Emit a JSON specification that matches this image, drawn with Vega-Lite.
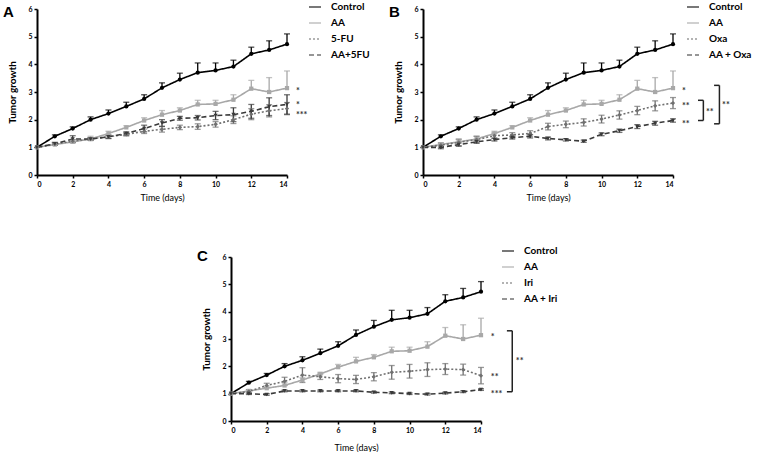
{
"$schema":"https://vega.github.io/schema/vega-lite/v6.json",
"background":"white",
"padding":{"left":3,"top":0,"right":0,"bottom":0},
"datasets":{
"series":[
{"p":"all","g":"Control","d":0,"y":1,"lo":1,"hi":1},
{"p":"all","g":"Control","d":1,"y":1.4,"lo":1.4,"hi":1.45},
{"p":"all","g":"Control","d":2,"y":1.68,"lo":1.68,"hi":1.74},
{"p":"all","g":"Control","d":3,"y":2.0,"lo":2.0,"hi":2.1},
{"p":"all","g":"Control","d":4,"y":2.22,"lo":2.22,"hi":2.35},
{"p":"all","g":"Control","d":5,"y":2.48,"lo":2.48,"hi":2.63},
{"p":"all","g":"Control","d":6,"y":2.75,"lo":2.75,"hi":2.9},
{"p":"all","g":"Control","d":7,"y":3.15,"lo":3.15,"hi":3.33},
{"p":"all","g":"Control","d":8,"y":3.45,"lo":3.45,"hi":3.68},
{"p":"all","g":"Control","d":9,"y":3.7,"lo":3.7,"hi":4.05},
{"p":"all","g":"Control","d":10,"y":3.78,"lo":3.78,"hi":4.05},
{"p":"all","g":"Control","d":11,"y":3.92,"lo":3.92,"hi":4.15},
{"p":"all","g":"Control","d":12,"y":4.38,"lo":4.38,"hi":4.62},
{"p":"all","g":"Control","d":13,"y":4.52,"lo":4.52,"hi":4.85},
{"p":"all","g":"Control","d":14,"y":4.73,"lo":4.73,"hi":5.1},
{"p":"all","g":"AA","d":0,"y":1,"lo":1,"hi":1},
{"p":"all","g":"AA","d":1,"y":1.1,"lo":1.1,"hi":1.15},
{"p":"all","g":"AA","d":2,"y":1.2,"lo":1.2,"hi":1.28},
{"p":"all","g":"AA","d":3,"y":1.3,"lo":1.3,"hi":1.4},
{"p":"all","g":"AA","d":4,"y":1.5,"lo":1.5,"hi":1.58},
{"p":"all","g":"AA","d":5,"y":1.72,"lo":1.72,"hi":1.78},
{"p":"all","g":"AA","d":6,"y":1.97,"lo":1.97,"hi":2.07},
{"p":"all","g":"AA","d":7,"y":2.18,"lo":2.18,"hi":2.33},
{"p":"all","g":"AA","d":8,"y":2.33,"lo":2.33,"hi":2.43},
{"p":"all","g":"AA","d":9,"y":2.55,"lo":2.55,"hi":2.7},
{"p":"all","g":"AA","d":10,"y":2.57,"lo":2.57,"hi":2.7},
{"p":"all","g":"AA","d":11,"y":2.72,"lo":2.72,"hi":2.9},
{"p":"all","g":"AA","d":12,"y":3.12,"lo":3.12,"hi":3.42},
{"p":"all","g":"AA","d":13,"y":3.0,"lo":3.0,"hi":3.52},
{"p":"all","g":"AA","d":14,"y":3.14,"lo":3.14,"hi":3.76},
{"p":"A","g":"5-FU","d":0,"y":1,"lo":1,"hi":1},
{"p":"A","g":"5-FU","d":1,"y":1.12,"lo":1.08,"hi":1.16},
{"p":"A","g":"5-FU","d":2,"y":1.22,"lo":1.16,"hi":1.28},
{"p":"A","g":"5-FU","d":3,"y":1.3,"lo":1.25,"hi":1.35},
{"p":"A","g":"5-FU","d":4,"y":1.38,"lo":1.32,"hi":1.44},
{"p":"A","g":"5-FU","d":5,"y":1.47,"lo":1.41,"hi":1.53},
{"p":"A","g":"5-FU","d":6,"y":1.58,"lo":1.5,"hi":1.66},
{"p":"A","g":"5-FU","d":7,"y":1.65,"lo":1.55,"hi":1.75},
{"p":"A","g":"5-FU","d":8,"y":1.72,"lo":1.64,"hi":1.8},
{"p":"A","g":"5-FU","d":9,"y":1.75,"lo":1.65,"hi":1.85},
{"p":"A","g":"5-FU","d":10,"y":1.83,"lo":1.73,"hi":1.93},
{"p":"A","g":"5-FU","d":11,"y":2.0,"lo":1.86,"hi":2.14},
{"p":"A","g":"5-FU","d":12,"y":2.2,"lo":2.0,"hi":2.4},
{"p":"A","g":"5-FU","d":13,"y":2.32,"lo":2.1,"hi":2.54},
{"p":"A","g":"5-FU","d":14,"y":2.4,"lo":2.18,"hi":2.62},
{"p":"A","g":"AA+5FU","d":0,"y":1,"lo":1,"hi":1},
{"p":"A","g":"AA+5FU","d":1,"y":1.13,"lo":1.08,"hi":1.18},
{"p":"A","g":"AA+5FU","d":2,"y":1.3,"lo":1.18,"hi":1.42},
{"p":"A","g":"AA+5FU","d":3,"y":1.3,"lo":1.25,"hi":1.35},
{"p":"A","g":"AA+5FU","d":4,"y":1.38,"lo":1.32,"hi":1.44},
{"p":"A","g":"AA+5FU","d":5,"y":1.5,"lo":1.44,"hi":1.56},
{"p":"A","g":"AA+5FU","d":6,"y":1.68,"lo":1.56,"hi":1.8},
{"p":"A","g":"AA+5FU","d":7,"y":1.88,"lo":1.76,"hi":2.0},
{"p":"A","g":"AA+5FU","d":8,"y":2.05,"lo":1.98,"hi":2.12},
{"p":"A","g":"AA+5FU","d":9,"y":2.07,"lo":1.99,"hi":2.15},
{"p":"A","g":"AA+5FU","d":10,"y":2.15,"lo":2.0,"hi":2.3},
{"p":"A","g":"AA+5FU","d":11,"y":2.18,"lo":1.93,"hi":2.43},
{"p":"A","g":"AA+5FU","d":12,"y":2.3,"lo":2.05,"hi":2.55},
{"p":"A","g":"AA+5FU","d":13,"y":2.47,"lo":2.15,"hi":2.79},
{"p":"A","g":"AA+5FU","d":14,"y":2.55,"lo":2.2,"hi":2.9},
{"p":"B","g":"Oxa","d":0,"y":1,"lo":1,"hi":1},
{"p":"B","g":"Oxa","d":1,"y":1.08,"lo":1.0,"hi":1.16},
{"p":"B","g":"Oxa","d":2,"y":1.18,"lo":1.06,"hi":1.3},
{"p":"B","g":"Oxa","d":3,"y":1.28,"lo":1.16,"hi":1.4},
{"p":"B","g":"Oxa","d":4,"y":1.42,"lo":1.32,"hi":1.52},
{"p":"B","g":"Oxa","d":5,"y":1.45,"lo":1.37,"hi":1.53},
{"p":"B","g":"Oxa","d":6,"y":1.5,"lo":1.4,"hi":1.6},
{"p":"B","g":"Oxa","d":7,"y":1.75,"lo":1.63,"hi":1.87},
{"p":"B","g":"Oxa","d":8,"y":1.83,"lo":1.71,"hi":1.95},
{"p":"B","g":"Oxa","d":9,"y":1.9,"lo":1.77,"hi":2.03},
{"p":"B","g":"Oxa","d":10,"y":2.02,"lo":1.88,"hi":2.16},
{"p":"B","g":"Oxa","d":11,"y":2.17,"lo":2.02,"hi":2.32},
{"p":"B","g":"Oxa","d":12,"y":2.33,"lo":2.18,"hi":2.48},
{"p":"B","g":"Oxa","d":13,"y":2.5,"lo":2.32,"hi":2.68},
{"p":"B","g":"Oxa","d":14,"y":2.6,"lo":2.4,"hi":2.8},
{"p":"B","g":"AA + Oxa","d":0,"y":1,"lo":1,"hi":1},
{"p":"B","g":"AA + Oxa","d":1,"y":1.0,"lo":0.95,"hi":1.05},
{"p":"B","g":"AA + Oxa","d":2,"y":1.1,"lo":1.04,"hi":1.16},
{"p":"B","g":"AA + Oxa","d":3,"y":1.2,"lo":1.15,"hi":1.25},
{"p":"B","g":"AA + Oxa","d":4,"y":1.28,"lo":1.23,"hi":1.33},
{"p":"B","g":"AA + Oxa","d":5,"y":1.35,"lo":1.3,"hi":1.4},
{"p":"B","g":"AA + Oxa","d":6,"y":1.4,"lo":1.34,"hi":1.46},
{"p":"B","g":"AA + Oxa","d":7,"y":1.32,"lo":1.27,"hi":1.37},
{"p":"B","g":"AA + Oxa","d":8,"y":1.27,"lo":1.23,"hi":1.31},
{"p":"B","g":"AA + Oxa","d":9,"y":1.22,"lo":1.18,"hi":1.26},
{"p":"B","g":"AA + Oxa","d":10,"y":1.47,"lo":1.42,"hi":1.52},
{"p":"B","g":"AA + Oxa","d":11,"y":1.6,"lo":1.54,"hi":1.66},
{"p":"B","g":"AA + Oxa","d":12,"y":1.75,"lo":1.68,"hi":1.82},
{"p":"B","g":"AA + Oxa","d":13,"y":1.87,"lo":1.8,"hi":1.94},
{"p":"B","g":"AA + Oxa","d":14,"y":1.97,"lo":1.91,"hi":2.03},
{"p":"C","g":"Iri","d":0,"y":1,"lo":1,"hi":1},
{"p":"C","g":"Iri","d":1,"y":1.08,"lo":1.02,"hi":1.14},
{"p":"C","g":"Iri","d":2,"y":1.3,"lo":1.22,"hi":1.38},
{"p":"C","g":"Iri","d":3,"y":1.45,"lo":1.3,"hi":1.6},
{"p":"C","g":"Iri","d":4,"y":1.68,"lo":1.41,"hi":1.95},
{"p":"C","g":"Iri","d":5,"y":1.62,"lo":1.52,"hi":1.72},
{"p":"C","g":"Iri","d":6,"y":1.55,"lo":1.4,"hi":1.7},
{"p":"C","g":"Iri","d":7,"y":1.52,"lo":1.37,"hi":1.67},
{"p":"C","g":"Iri","d":8,"y":1.62,"lo":1.47,"hi":1.77},
{"p":"C","g":"Iri","d":9,"y":1.78,"lo":1.53,"hi":2.03},
{"p":"C","g":"Iri","d":10,"y":1.82,"lo":1.57,"hi":2.07},
{"p":"C","g":"Iri","d":11,"y":1.88,"lo":1.63,"hi":2.13},
{"p":"C","g":"Iri","d":12,"y":1.9,"lo":1.7,"hi":2.1},
{"p":"C","g":"Iri","d":13,"y":1.88,"lo":1.68,"hi":2.08},
{"p":"C","g":"Iri","d":14,"y":1.66,"lo":1.36,"hi":1.96},
{"p":"C","g":"AA + Iri","d":0,"y":1,"lo":1,"hi":1},
{"p":"C","g":"AA + Iri","d":1,"y":1.0,"lo":0.97,"hi":1.03},
{"p":"C","g":"AA + Iri","d":2,"y":0.97,"lo":0.94,"hi":1.0},
{"p":"C","g":"AA + Iri","d":3,"y":1.1,"lo":1.07,"hi":1.13},
{"p":"C","g":"AA + Iri","d":4,"y":1.1,"lo":1.07,"hi":1.13},
{"p":"C","g":"AA + Iri","d":5,"y":1.1,"lo":1.07,"hi":1.13},
{"p":"C","g":"AA + Iri","d":6,"y":1.1,"lo":1.07,"hi":1.13},
{"p":"C","g":"AA + Iri","d":7,"y":1.1,"lo":1.07,"hi":1.13},
{"p":"C","g":"AA + Iri","d":8,"y":1.05,"lo":1.02,"hi":1.08},
{"p":"C","g":"AA + Iri","d":9,"y":1.03,"lo":1.0,"hi":1.06},
{"p":"C","g":"AA + Iri","d":10,"y":1.0,"lo":0.97,"hi":1.03},
{"p":"C","g":"AA + Iri","d":11,"y":0.98,"lo":0.95,"hi":1.01},
{"p":"C","g":"AA + Iri","d":12,"y":1.02,"lo":0.99,"hi":1.05},
{"p":"C","g":"AA + Iri","d":13,"y":1.07,"lo":1.04,"hi":1.1},
{"p":"C","g":"AA + Iri","d":14,"y":1.15,"lo":1.12,"hi":1.18}
],
"ann":[
{"p":"A","x":14.5,"y":3.12,"t":"*"},
{"p":"A","x":14.5,"y":2.62,"t":"*"},
{"p":"A","x":14.5,"y":2.24,"t":"***"},
{"p":"B","x":14.5,"y":3.1,"t":"*"},
{"p":"B","x":14.5,"y":2.55,"t":"**"},
{"p":"B","x":14.5,"y":1.9,"t":"**"},
{"p":"B","x":15.85,"y":2.36,"t":"**"},
{"p":"B","x":16.75,"y":2.62,"t":"**"},
{"p":"C","x":14.55,"y":3.15,"t":"*"},
{"p":"C","x":14.55,"y":1.68,"t":"**"},
{"p":"C","x":14.55,"y":1.07,"t":"***"},
{"p":"C","x":15.95,"y":2.27,"t":"**"}
],
"br":[
{"p":"B","x":15.7,"x2":15.7,"y":2.7,"y2":1.97},
{"p":"B","x":15.4,"x2":15.7,"y":2.7,"y2":2.7},
{"p":"B","x":15.4,"x2":15.7,"y":1.97,"y2":1.97},
{"p":"B","x":16.6,"x2":16.6,"y":3.24,"y2":1.85},
{"p":"B","x":16.3,"x2":16.6,"y":3.24,"y2":3.24},
{"p":"B","x":16.3,"x2":16.6,"y":1.85,"y2":1.85},
{"p":"C","x":15.75,"x2":15.75,"y":3.3,"y2":1.07},
{"p":"C","x":15.45,"x2":15.75,"y":3.3,"y2":3.3},
{"p":"C","x":15.45,"x2":15.75,"y":1.07,"y2":1.07}
]
},
"vconcat":[
{"hconcat":[
{
"width":250,"height":166,
"title":{"text":"A"},
"layer":[
{"data":{"name":"series"},"transform":[{"filter":"(datum.p=='all'||datum.p=='A')"}],
 "mark":{"type":"rule","strokeWidth":1.3},
 "encoding":{"x":{"field":"d","type":"quantitative","scale":{"domain":[0,14],"nice":false},"title":"Time (days)"},
 "y":{"field":"lo","type":"quantitative","scale":{"domain":[0,6],"nice":false},"title":"Tumor growth"},"y2":{"field":"hi"},
 "color":{"field":"g","type":"nominal","scale":{"domain":["Control","AA","5-FU","AA+5FU"],"range":["#000000","#a8a8a8","#707070","#3a3a3a"]}}}},
{"data":{"name":"series"},"transform":[{"filter":"(datum.p=='all'||datum.p=='A') && datum.hi>datum.y"}],
 "mark":{"type":"tick","orient":"horizontal","size":6,"thickness":1.3},
 "encoding":{"x":{"field":"d","type":"quantitative","scale":{"domain":[0,14],"nice":false},"title":"Time (days)"},
 "y":{"field":"hi","type":"quantitative","scale":{"domain":[0,6],"nice":false},"title":"Tumor growth"},
 "color":{"field":"g","type":"nominal","scale":{"domain":["Control","AA","5-FU","AA+5FU"],"range":["#000000","#a8a8a8","#707070","#3a3a3a"]}}}},
{"data":{"name":"series"},"transform":[{"filter":"(datum.p=='all'||datum.p=='A') && datum.lo<datum.y"}],
 "mark":{"type":"tick","orient":"horizontal","size":6,"thickness":1.3},
 "encoding":{"x":{"field":"d","type":"quantitative","scale":{"domain":[0,14],"nice":false},"title":"Time (days)"},
 "y":{"field":"lo","type":"quantitative","scale":{"domain":[0,6],"nice":false},"title":"Tumor growth"},
 "color":{"field":"g","type":"nominal","scale":{"domain":["Control","AA","5-FU","AA+5FU"],"range":["#000000","#a8a8a8","#707070","#3a3a3a"]}}}},
{"data":{"name":"series"},"transform":[{"filter":"(datum.p=='all'||datum.p=='A')"}],
 "mark":{"type":"line","strokeWidth":1.6},
 "encoding":{"x":{"field":"d","type":"quantitative","scale":{"domain":[0,14],"nice":false},"title":"Time (days)"},
 "y":{"field":"y","type":"quantitative","scale":{"domain":[0,6],"nice":false},"title":"Tumor growth"},
 "color":{"field":"g","type":"nominal","scale":{"domain":["Control","AA","5-FU","AA+5FU"],"range":["#000000","#a8a8a8","#707070","#3a3a3a"]},"legend":{"title":null,"orient":"none","legendX":271,"legendY":-9,"symbolType":"stroke"}},
 "strokeDash":{"field":"g","type":"nominal","scale":{"domain":["Control","AA","5-FU","AA+5FU"],"range":[[1,0],[1,0],[2,2],[5,3]]},"legend":{"title":null,"orient":"none","legendX":271,"legendY":-9,"symbolType":"stroke"}}}},
{"data":{"name":"series"},"transform":[{"filter":"(datum.p=='all'||datum.p=='A') && datum.g=='Control'"}],
 "mark":{"type":"point","filled":true,"size":18,"opacity":1,"shape":"circle","color":"#000000"},
 "encoding":{"x":{"field":"d","type":"quantitative","scale":{"domain":[0,14],"nice":false},"title":"Time (days)"},
 "y":{"field":"y","type":"quantitative","scale":{"domain":[0,6],"nice":false},"title":"Tumor growth"}}},
{"data":{"name":"series"},"transform":[{"filter":"(datum.p=='all'||datum.p=='A') && datum.g=='AA'"}],
 "mark":{"type":"point","filled":true,"size":18,"opacity":1,"shape":"square","color":"#a8a8a8"},
 "encoding":{"x":{"field":"d","type":"quantitative","scale":{"domain":[0,14],"nice":false},"title":"Time (days)"},
 "y":{"field":"y","type":"quantitative","scale":{"domain":[0,6],"nice":false},"title":"Tumor growth"}}},
{"data":{"name":"series"},"transform":[{"filter":"datum.p=='A' && datum.g=='5-FU'"}],
 "mark":{"type":"point","filled":true,"size":18,"opacity":1,"shape":"diamond","color":"#707070"},
 "encoding":{"x":{"field":"d","type":"quantitative","scale":{"domain":[0,14],"nice":false},"title":"Time (days)"},
 "y":{"field":"y","type":"quantitative","scale":{"domain":[0,6],"nice":false},"title":"Tumor growth"}}},
{"data":{"name":"series"},"transform":[{"filter":"datum.p=='A' && datum.g=='AA+5FU'"}],
 "mark":{"type":"point","filled":true,"size":18,"opacity":1,"shape":"triangle-down","color":"#3a3a3a"},
 "encoding":{"x":{"field":"d","type":"quantitative","scale":{"domain":[0,14],"nice":false},"title":"Time (days)"},
 "y":{"field":"y","type":"quantitative","scale":{"domain":[0,6],"nice":false},"title":"Tumor growth"}}},
{"data":{"name":"ann"},"transform":[{"filter":"datum.p=='A'"}],
 "mark":{"type":"text","align":"left","baseline":"middle","fontWeight":"bold","fontSize":9,"dy":2,"color":"#333333"},
 "encoding":{"x":{"field":"x","type":"quantitative","scale":{"domain":[0,14],"nice":false},"title":"Time (days)"},
 "y":{"field":"y","type":"quantitative","scale":{"domain":[0,6],"nice":false},"title":"Tumor growth"},
 "text":{"field":"t"}}}
]
},
{
"width":250,"height":166,
"title":{"text":"B"},
"layer":[
{"data":{"name":"series"},"transform":[{"filter":"(datum.p=='all'||datum.p=='B')"}],
 "mark":{"type":"rule","strokeWidth":1.3},
 "encoding":{"x":{"field":"d","type":"quantitative","scale":{"domain":[0,14],"nice":false},"title":"Time (days)"},
 "y":{"field":"lo","type":"quantitative","scale":{"domain":[0,6],"nice":false},"title":"Tumor growth"},"y2":{"field":"hi"},
 "color":{"field":"g","type":"nominal","scale":{"domain":["Control","AA","Oxa","AA + Oxa"],"range":["#000000","#a8a8a8","#707070","#3a3a3a"]}}}},
{"data":{"name":"series"},"transform":[{"filter":"(datum.p=='all'||datum.p=='B') && datum.hi>datum.y"}],
 "mark":{"type":"tick","orient":"horizontal","size":6,"thickness":1.3},
 "encoding":{"x":{"field":"d","type":"quantitative","scale":{"domain":[0,14],"nice":false},"title":"Time (days)"},
 "y":{"field":"hi","type":"quantitative","scale":{"domain":[0,6],"nice":false},"title":"Tumor growth"},
 "color":{"field":"g","type":"nominal","scale":{"domain":["Control","AA","Oxa","AA + Oxa"],"range":["#000000","#a8a8a8","#707070","#3a3a3a"]}}}},
{"data":{"name":"series"},"transform":[{"filter":"(datum.p=='all'||datum.p=='B') && datum.lo<datum.y"}],
 "mark":{"type":"tick","orient":"horizontal","size":6,"thickness":1.3},
 "encoding":{"x":{"field":"d","type":"quantitative","scale":{"domain":[0,14],"nice":false},"title":"Time (days)"},
 "y":{"field":"lo","type":"quantitative","scale":{"domain":[0,6],"nice":false},"title":"Tumor growth"},
 "color":{"field":"g","type":"nominal","scale":{"domain":["Control","AA","Oxa","AA + Oxa"],"range":["#000000","#a8a8a8","#707070","#3a3a3a"]}}}},
{"data":{"name":"series"},"transform":[{"filter":"(datum.p=='all'||datum.p=='B')"}],
 "mark":{"type":"line","strokeWidth":1.6},
 "encoding":{"x":{"field":"d","type":"quantitative","scale":{"domain":[0,14],"nice":false},"title":"Time (days)"},
 "y":{"field":"y","type":"quantitative","scale":{"domain":[0,6],"nice":false},"title":"Tumor growth"},
 "color":{"field":"g","type":"nominal","scale":{"domain":["Control","AA","Oxa","AA + Oxa"],"range":["#000000","#a8a8a8","#707070","#3a3a3a"]},"legend":{"title":null,"orient":"none","legendX":263,"legendY":-9,"symbolType":"stroke","labelOffset":9}},
 "strokeDash":{"field":"g","type":"nominal","scale":{"domain":["Control","AA","Oxa","AA + Oxa"],"range":[[1,0],[1,0],[2,2],[5,3]]},"legend":{"title":null,"orient":"none","legendX":263,"legendY":-9,"symbolType":"stroke","labelOffset":9}}}},
{"data":{"name":"series"},"transform":[{"filter":"(datum.p=='all'||datum.p=='B') && datum.g=='Control'"}],
 "mark":{"type":"point","filled":true,"size":18,"opacity":1,"shape":"circle","color":"#000000"},
 "encoding":{"x":{"field":"d","type":"quantitative","scale":{"domain":[0,14],"nice":false},"title":"Time (days)"},
 "y":{"field":"y","type":"quantitative","scale":{"domain":[0,6],"nice":false},"title":"Tumor growth"}}},
{"data":{"name":"series"},"transform":[{"filter":"(datum.p=='all'||datum.p=='B') && datum.g=='AA'"}],
 "mark":{"type":"point","filled":true,"size":18,"opacity":1,"shape":"square","color":"#a8a8a8"},
 "encoding":{"x":{"field":"d","type":"quantitative","scale":{"domain":[0,14],"nice":false},"title":"Time (days)"},
 "y":{"field":"y","type":"quantitative","scale":{"domain":[0,6],"nice":false},"title":"Tumor growth"}}},
{"data":{"name":"series"},"transform":[{"filter":"datum.p=='B' && datum.g=='Oxa'"}],
 "mark":{"type":"point","filled":true,"size":18,"opacity":1,"shape":"diamond","color":"#707070"},
 "encoding":{"x":{"field":"d","type":"quantitative","scale":{"domain":[0,14],"nice":false},"title":"Time (days)"},
 "y":{"field":"y","type":"quantitative","scale":{"domain":[0,6],"nice":false},"title":"Tumor growth"}}},
{"data":{"name":"series"},"transform":[{"filter":"datum.p=='B' && datum.g=='AA + Oxa'"}],
 "mark":{"type":"point","filled":true,"size":18,"opacity":1,"shape":"triangle-down","color":"#3a3a3a"},
 "encoding":{"x":{"field":"d","type":"quantitative","scale":{"domain":[0,14],"nice":false},"title":"Time (days)"},
 "y":{"field":"y","type":"quantitative","scale":{"domain":[0,6],"nice":false},"title":"Tumor growth"}}},
{"data":{"name":"ann"},"transform":[{"filter":"datum.p=='B'"}],
 "mark":{"type":"text","align":"left","baseline":"middle","fontWeight":"bold","fontSize":9,"dy":2,"color":"#333333"},
 "encoding":{"x":{"field":"x","type":"quantitative","scale":{"domain":[0,14],"nice":false},"title":"Time (days)"},
 "y":{"field":"y","type":"quantitative","scale":{"domain":[0,6],"nice":false},"title":"Tumor growth"},
 "text":{"field":"t"}}},
{"data":{"name":"br"},"transform":[{"filter":"datum.p=='B'"}],
 "mark":{"type":"rule","strokeWidth":1.5,"color":"#222222"},
 "encoding":{"x":{"field":"x","type":"quantitative","scale":{"domain":[0,14],"nice":false},"title":"Time (days)"},"x2":{"field":"x2"},
 "y":{"field":"y","type":"quantitative","scale":{"domain":[0,6],"nice":false},"title":"Tumor growth"},"y2":{"field":"y2"}}}
]
}
],"spacing":19,"resolve":{"scale":{"color":"independent","strokeDash":"independent"},"legend":{"color":"independent","strokeDash":"independent"}}},
{
"width":250,"height":164,
"title":{"text":"C"},
"layer":[
{"data":{"name":"series"},"transform":[{"filter":"(datum.p=='all'||datum.p=='C')"}],
 "mark":{"type":"rule","strokeWidth":1.3},
 "encoding":{"x":{"field":"d","type":"quantitative","scale":{"domain":[0,14],"nice":false},"title":"Time (days)","axis":{"titlePadding":10}},
 "y":{"field":"lo","type":"quantitative","scale":{"domain":[0,6],"nice":false},"title":"Tumor growth"},"y2":{"field":"hi"},
 "color":{"field":"g","type":"nominal","scale":{"domain":["Control","AA","Iri","AA + Iri"],"range":["#000000","#a8a8a8","#707070","#3a3a3a"]}}}},
{"data":{"name":"series"},"transform":[{"filter":"(datum.p=='all'||datum.p=='C') && datum.hi>datum.y"}],
 "mark":{"type":"tick","orient":"horizontal","size":6,"thickness":1.3},
 "encoding":{"x":{"field":"d","type":"quantitative","scale":{"domain":[0,14],"nice":false},"title":"Time (days)"},
 "y":{"field":"hi","type":"quantitative","scale":{"domain":[0,6],"nice":false},"title":"Tumor growth"},
 "color":{"field":"g","type":"nominal","scale":{"domain":["Control","AA","Iri","AA + Iri"],"range":["#000000","#a8a8a8","#707070","#3a3a3a"]}}}},
{"data":{"name":"series"},"transform":[{"filter":"(datum.p=='all'||datum.p=='C') && datum.lo<datum.y"}],
 "mark":{"type":"tick","orient":"horizontal","size":6,"thickness":1.3},
 "encoding":{"x":{"field":"d","type":"quantitative","scale":{"domain":[0,14],"nice":false},"title":"Time (days)"},
 "y":{"field":"lo","type":"quantitative","scale":{"domain":[0,6],"nice":false},"title":"Tumor growth"},
 "color":{"field":"g","type":"nominal","scale":{"domain":["Control","AA","Iri","AA + Iri"],"range":["#000000","#a8a8a8","#707070","#3a3a3a"]}}}},
{"data":{"name":"series"},"transform":[{"filter":"(datum.p=='all'||datum.p=='C')"}],
 "mark":{"type":"line","strokeWidth":1.6},
 "encoding":{"x":{"field":"d","type":"quantitative","scale":{"domain":[0,14],"nice":false},"title":"Time (days)"},
 "y":{"field":"y","type":"quantitative","scale":{"domain":[0,6],"nice":false},"title":"Tumor growth"},
 "color":{"field":"g","type":"nominal","scale":{"domain":["Control","AA","Iri","AA + Iri"],"range":["#000000","#a8a8a8","#707070","#3a3a3a"]},"legend":{"title":null,"orient":"none","legendX":270,"legendY":-13,"symbolType":"stroke"}},
 "strokeDash":{"field":"g","type":"nominal","scale":{"domain":["Control","AA","Iri","AA + Iri"],"range":[[1,0],[1,0],[2,2],[5,3]]},"legend":{"title":null,"orient":"none","legendX":270,"legendY":-13,"symbolType":"stroke"}}}},
{"data":{"name":"series"},"transform":[{"filter":"(datum.p=='all'||datum.p=='C') && datum.g=='Control'"}],
 "mark":{"type":"point","filled":true,"size":18,"opacity":1,"shape":"circle","color":"#000000"},
 "encoding":{"x":{"field":"d","type":"quantitative","scale":{"domain":[0,14],"nice":false},"title":"Time (days)"},
 "y":{"field":"y","type":"quantitative","scale":{"domain":[0,6],"nice":false},"title":"Tumor growth"}}},
{"data":{"name":"series"},"transform":[{"filter":"(datum.p=='all'||datum.p=='C') && datum.g=='AA'"}],
 "mark":{"type":"point","filled":true,"size":18,"opacity":1,"shape":"square","color":"#a8a8a8"},
 "encoding":{"x":{"field":"d","type":"quantitative","scale":{"domain":[0,14],"nice":false},"title":"Time (days)"},
 "y":{"field":"y","type":"quantitative","scale":{"domain":[0,6],"nice":false},"title":"Tumor growth"}}},
{"data":{"name":"series"},"transform":[{"filter":"datum.p=='C' && datum.g=='Iri'"}],
 "mark":{"type":"point","filled":true,"size":18,"opacity":1,"shape":"diamond","color":"#707070"},
 "encoding":{"x":{"field":"d","type":"quantitative","scale":{"domain":[0,14],"nice":false},"title":"Time (days)"},
 "y":{"field":"y","type":"quantitative","scale":{"domain":[0,6],"nice":false},"title":"Tumor growth"}}},
{"data":{"name":"series"},"transform":[{"filter":"datum.p=='C' && datum.g=='AA + Iri'"}],
 "mark":{"type":"point","filled":true,"size":18,"opacity":1,"shape":"triangle-down","color":"#3a3a3a"},
 "encoding":{"x":{"field":"d","type":"quantitative","scale":{"domain":[0,14],"nice":false},"title":"Time (days)"},
 "y":{"field":"y","type":"quantitative","scale":{"domain":[0,6],"nice":false},"title":"Tumor growth"}}},
{"data":{"name":"ann"},"transform":[{"filter":"datum.p=='C'"}],
 "mark":{"type":"text","align":"left","baseline":"middle","fontWeight":"bold","fontSize":9,"dy":2,"color":"#333333"},
 "encoding":{"x":{"field":"x","type":"quantitative","scale":{"domain":[0,14],"nice":false},"title":"Time (days)"},
 "y":{"field":"y","type":"quantitative","scale":{"domain":[0,6],"nice":false},"title":"Tumor growth"},
 "text":{"field":"t"}}},
{"data":{"name":"br"},"transform":[{"filter":"datum.p=='C'"}],
 "mark":{"type":"rule","strokeWidth":1.5,"color":"#222222"},
 "encoding":{"x":{"field":"x","type":"quantitative","scale":{"domain":[0,14],"nice":false},"title":"Time (days)"},"x2":{"field":"x2"},
 "y":{"field":"y","type":"quantitative","scale":{"domain":[0,6],"nice":false},"title":"Tumor growth"},"y2":{"field":"y2"}}}
]
}
],
"spacing":42,
"center":true,
"resolve":{"scale":{"color":"independent","strokeDash":"independent"},"legend":{"color":"independent","strokeDash":"independent"}},
"config":{
"font":"Lato",
"view":{"stroke":null},
"title":{"anchor":"start","frame":"group","fontSize":15,"fontWeight":"bold","font":"Liberation Sans","color":"#000000","dx":-34,"offset":-20},
"axis":{"grid":false,"domainColor":"#000000","domainWidth":2,"tickColor":"#000000","tickWidth":1.5,"tickSize":3,"labelFont":"Lato","labelFontWeight":"bold","labelFontSize":7,"labelColor":"#000000","labelPadding":2,"titleFont":"Lato","titleColor":"#000000"},
"axisY":{"values":[0,1,2,3,4,5,6],"titleFontSize":10,"titleFontWeight":"bold","titlePadding":10},
"axisX":{"values":[0,2,4,6,8,10,12,14],"titleFontSize":9,"titleFontWeight":"normal","titlePadding":6},
"legend":{"symbolType":"stroke","symbolSize":144,"symbolStrokeWidth":1.6,"labelFont":"Lato","labelFontSize":10,"labelFontWeight":"bold","labelColor":"#000000","rowPadding":4,"labelOffset":9}
}
}
